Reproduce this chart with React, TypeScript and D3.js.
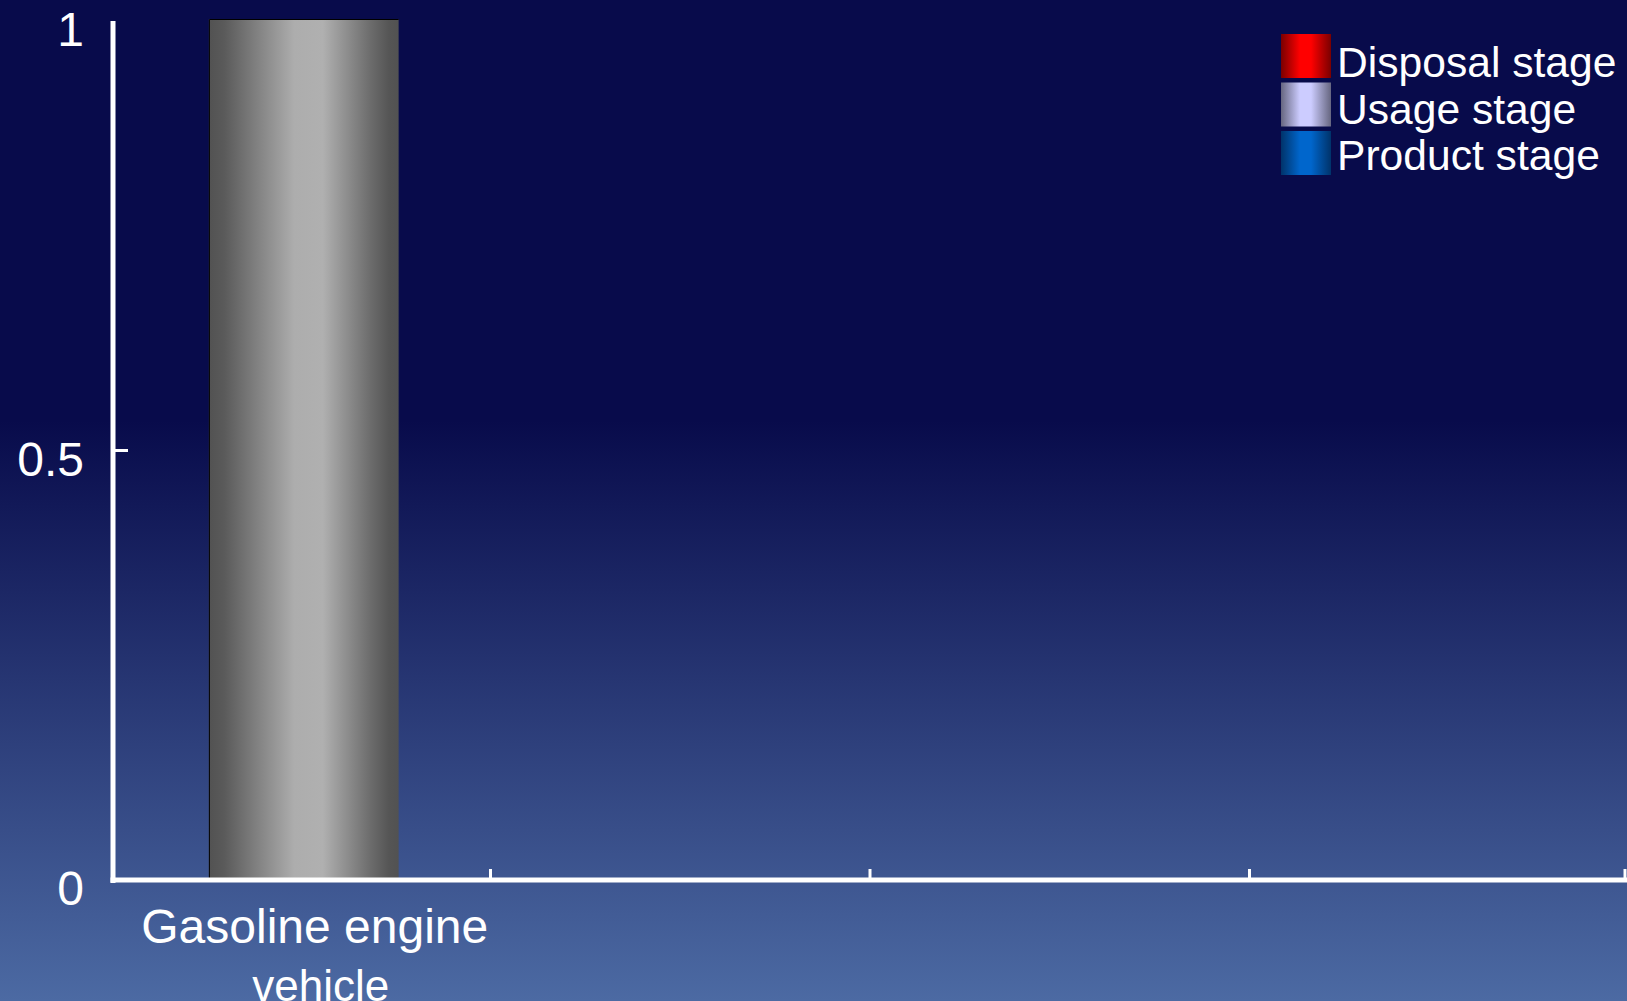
import React from "react";
import * as d3 from "d3";

// Categories along the x axis (only the first one carries a bar)
const categories = ["Gasoline engine vehicle", "cat2", "cat3", "cat4"];
const categoryLabels = [["Gasoline engine", "vehicle"], [], [], []];
// Normalised life-cycle total per category
const totals: (number | null)[] = [1, null, null, null];
// Y tick values and labels
const yTicks = [0, 0.5, 1];
const yTickLabels = ["0", "0.5", "1"];
// Legend entries (stage names and gradient colours: edge, centre)
const stageNames = ["Disposal stage", "Usage stage", "Product stage"];
const stageEdge = ["#7a0000", "#666680", "#00336a"];
const stageCentre = ["#ff0000", "#ccccff", "#0066cc"];

const W = 1627;
const H = 1001;
const FONT = "'Liberation Sans', Arial, Helvetica, sans-serif";

export default function App() {
  const x = d3
    .scaleBand<string>()
    .domain(categories)
    .range([111, 1629])
    .paddingInner(0.5)
    .paddingOuter(0.25);
  const y = d3.scaleLinear().domain([0, 1]).range([880, 21]);
  const step = x.step();
  const r0 = x.range()[0];
  const bw = x.bandwidth();
  const barShift = 3;

  return (
    <svg
      width={W}
      height={H}
      style={{ position: "absolute", left: 0, top: 0, display: "block" }}
      fontFamily={FONT}
    >
      <defs>
        <linearGradient id="bg" x1="0" y1="0" x2="0" y2="1">
          <stop offset="0" stopColor="#080b4b" />
          <stop offset="0.42" stopColor="#080b4b" />
          <stop offset="1" stopColor="#4c6aa3" />
        </linearGradient>
        <linearGradient id="barGrad" x1="0" y1="0" x2="1" y2="0">
          <stop offset="0" stopColor="#525252" />
          <stop offset="0.08" stopColor="#5a5a5a" />
          <stop offset="0.45" stopColor="#adadad" />
          <stop offset="0.6" stopColor="#b0b0b0" />
          <stop offset="0.86" stopColor="#6a6a6a" />
          <stop offset="0.95" stopColor="#555555" />
          <stop offset="1" stopColor="#525252" />
        </linearGradient>
        {stageNames.map((s, i) => (
          <linearGradient key={s} id={`lg${i}`} x1="0" y1="0" x2="1" y2="0">
            <stop offset="0" stopColor={stageEdge[i]} />
            <stop offset="0.38" stopColor={stageCentre[i]} />
            <stop offset="0.6" stopColor={stageCentre[i]} />
            <stop offset="1" stopColor={stageEdge[i]} />
          </linearGradient>
        ))}
      </defs>

      <rect x={0} y={0} width={W} height={H} fill="url(#bg)" />

      {/* bars */}
      {categories.map((c, i) => {
        const v = totals[i];
        if (v == null) return null;
        const bx = x(c)! + barShift;
        const top = y(v) - 2;
        return (
          <g key={c}>
            <rect x={bx} y={top} width={bw} height={y(0) - top} fill="url(#barGrad)" />
            <path
              d={`M${bx + 0.5},${y(0)} V${top + 0.5} H${bx + bw}`}
              stroke="#000"
              strokeWidth={1}
              fill="none"
            />
          </g>
        );
      })}

      {/* y axis */}
      <line x1={113} x2={113} y1={y(1)} y2={y(0) + 3} stroke="#fff" strokeWidth={5} />
      {yTicks
        .filter((t) => t > 0 && t < 1)
        .map((t) => (
          <line key={t} x1={113} x2={128} y1={y(t)} y2={y(t)} stroke="#fff" strokeWidth={3} />
        ))}
      {yTicks.map((t, i) => (
        <text
          key={t}
          x={84}
          y={y(t) + 25}
          textAnchor="end"
          fill="#fff"
          fontSize={48}
        >
          {yTickLabels[i]}
        </text>
      ))}

      {/* x axis */}
      <line x1={110.5} x2={W} y1={y(0)} y2={y(0)} stroke="#fff" strokeWidth={5} />
      {categories.map((c, i) => {
        const tx = r0 + (i + 1) * step - (i === categories.length - 1 ? 4 : 0);
        return (
          <line key={c} x1={tx} x2={tx} y1={y(0) - 11} y2={y(0)} stroke="#fff" strokeWidth={3} />
        );
      })}
      {categories.map((c, i) => (
        <text
          key={c}
          x={x(c)! + bw / 2 + 14}
          y={943}
          textAnchor="middle"
          fill="#fff"
          fontSize={48}
        >
          {categoryLabels[i].map((ln, j) => (
            <tspan
              key={j}
              x={x(c)! + bw / 2 + 14 + (j > 0 ? 6 : 0)}
              dy={j === 0 ? 0 : 58}
              fontSize={j === 0 ? 48 : 44}
            >
              {ln}
            </tspan>
          ))}
        </text>
      ))}

      {/* legend */}
      {stageNames.map((s, i) => (
        <g key={s}>
          <rect x={1281} y={34 + i * 48.5} width={50} height={44} fill={`url(#lg${i})`} />
          <text x={1337} y={77 + i * 46.5} fill="#fff" fontSize={42.6}>
            {s}
          </text>
        </g>
      ))}
    </svg>
  );
}
